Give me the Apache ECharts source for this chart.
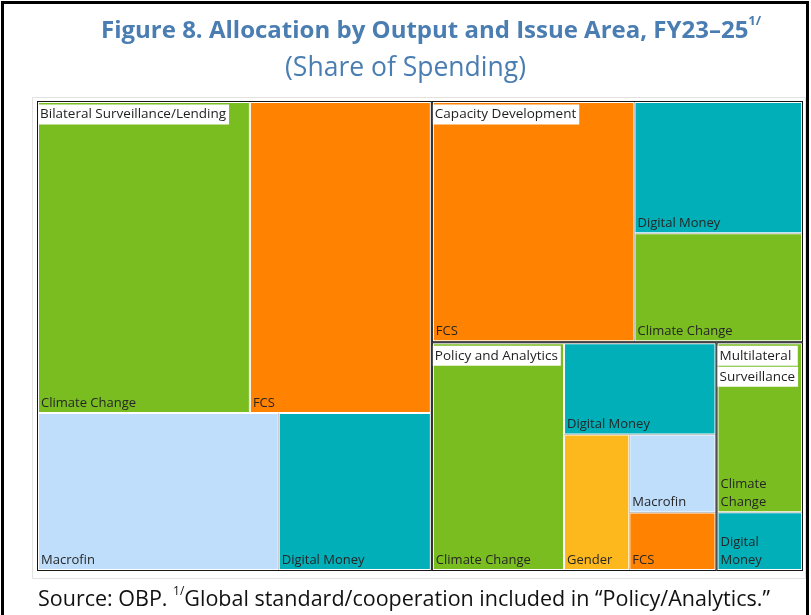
<!DOCTYPE html>
<html>
<head>
<meta charset="utf-8">
<script src="https://cdn.jsdelivr.net/npm/echarts@6/dist/echarts.min.js"></script>
<style>
  html, body { margin: 0; padding: 0; background: #fff; }
  #frame { position: absolute; left: 1px; top: 1px; width: 808px; height: 660px; border: 3px solid #000; box-sizing: border-box; }
  #chart { position: absolute; left: 0; top: 0; width: 811px; height: 615px; }
</style>
</head>
<body>
<div id="frame"></div>
<div id="chart"></div>
<script>
// share of spending by output (group) and issue area
const groupNames = ['Bilateral Surveillance/Lending', 'Capacity Development', 'Policy and Analytics', 'Multilateral Surveillance'];

const bilateralAreas = ['Climate Change', 'FCS', 'Macrofin', 'Digital Money'];
const bilateralShares = [18.5, 15.8, 10.6, 6.7];

const capacityAreas = ['FCS', 'Digital Money', 'Climate Change'];
const capacityShares = [13.6, 6.2, 5.1];

const policyAreas = ['Climate Change', 'Digital Money', 'Gender', 'Macrofin', 'FCS'];
const policyShares = [8.4, 3.9, 2.5, 1.9, 1.4];

const multilateralAreas = ['Climate Change', 'Digital Money'];
const multilateralShares = [4.1, 1.4];

const areaColors = {
  'Climate Change': '#79bd21',
  'FCS': '#ff8200',
  'Macrofin': '#bedefb',
  'Digital Money': '#00afb8',
  'Gender': '#fdb81e'
};

const FONT = 'Open Sans';
const BLUE = '#4a7db1';
const CLEAR = 'rgba(0,0,0,0)';

const groupAreas = [bilateralAreas, capacityAreas, policyAreas, multilateralAreas];
const groupShares = [bilateralShares, capacityShares, policyShares, multilateralShares];
const sum = arr => arr.reduce((s, v) => s + v, 0);

const cells = groupNames.map((g, i) => ({
  name: g,
  children: groupAreas[i].map((a, j) => ({
    name: a,
    value: groupShares[i][j],
    itemStyle: { color: areaColors[a] }
  }))
}));

// same top level again, only there to write the output names over the groups
const groupBoxes = groupNames.map((g, i) => ({
  name: g,
  value: sum(groupShares[i]),
  itemStyle: { color: CLEAR, borderColor: CLEAR, borderWidth: 0 }
}));

const box = { left: 37, top: 101, width: 766, height: 470 };

const chart = echarts.init(document.getElementById('chart'));

chart.setOption({
  animation: false,
  title: [
    {
      text: '{a|Figure 8. Allocation by Output and Issue Area, FY23\u201325}{s|1/}',
      left: 96,
      top: 10,
      textStyle: {
        rich: {
          a: { fontFamily: FONT, fontWeight: 'bold', fontSize: 24, color: BLUE, lineHeight: 32 },
          s: { fontFamily: FONT, fontWeight: 'bold', fontSize: 13, color: BLUE, lineHeight: 16, verticalAlign: 'top' }
        }
      }
    },
    {
      text: '(Share of Spending)',
      left: 'center',
      top: 47,
      textStyle: { fontFamily: FONT, fontWeight: 'normal', fontSize: 26.5, lineHeight: 32, color: BLUE }
    },
    {
      text: '{n|Source: OBP. }{s|1/}{n|Global standard/cooperation included in \u201cPolicy/Analytics.\u201d}',
      left: 33,
      top: 581,
      textStyle: {
        rich: {
          n: { fontFamily: FONT, fontWeight: 'normal', fontSize: 21.5, color: '#111', lineHeight: 28 },
          s: { fontFamily: FONT, fontWeight: 'normal', fontSize: 12, color: '#111', lineHeight: 15, verticalAlign: 'top' }
        }
      }
    }
  ],
  graphic: [
    {
      type: 'rect',
      z: -10,
      shape: { x: 32.5, y: 97.5, width: 773, height: 481 },
      style: { fill: '#fff', stroke: '#e2e2e2', lineWidth: 1 }
    }
  ],
  series: [
    {
      type: 'treemap',
      ...box,
      roam: false,
      nodeClick: false,
      breadcrumb: { show: false },
      squareRatio: 0.93,
      label: {
        show: true,
        position: 'insideBottomLeft',
        distance: 0,
        padding: [0, 0, 0, 2],
        color: '#262626',
        fontFamily: FONT,
        fontSize: 13,
        lineHeight: 18,
        overflow: 'break'
      },
      upperLabel: { show: false },
      levels: [
        { itemStyle: { borderWidth: 0, gapWidth: 0 } },
        { itemStyle: { borderWidth: 1, borderColor: '#161616', gapWidth: 0 } },
        { itemStyle: { borderWidth: 1, borderColor: '#ffffff', gapWidth: 0 } }
      ],
      data: cells
    },
    {
      type: 'treemap',
      z: 5,
      ...box,
      roam: false,
      nodeClick: false,
      silent: true,
      breadcrumb: { show: false },
      squareRatio: 0.93,
      itemStyle: { color: CLEAR, borderColor: CLEAR, borderWidth: 0, gapWidth: 0 },
      levels: [
        { itemStyle: { color: CLEAR, borderColor: CLEAR, borderWidth: 0, gapWidth: 0 } },
        { itemStyle: { color: CLEAR, borderColor: CLEAR, borderWidth: 0, gapWidth: 0 } }
      ],
      label: {
        show: true,
        position: 'insideTopLeft',
        distance: 1,
        padding: [2, 0, 0, 0],
        overflow: 'break',
        formatter: p => '{t|' + p.name + '}',
        rich: {
          t: { backgroundColor: '#fff', color: '#1e1e1e', fontFamily: FONT, fontSize: 13.5, height: 20, lineHeight: 21, padding: [0, 3, 0, 2] }
        }
      },
      data: groupBoxes
    }
  ]
});

window.addEventListener('resize', () => chart.resize());
</script>
</body>
</html>
